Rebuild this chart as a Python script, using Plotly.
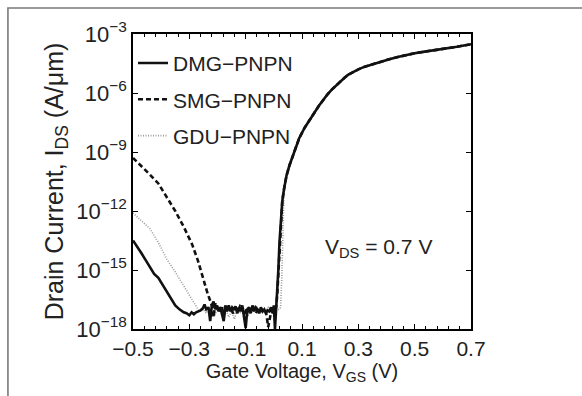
import numpy as np
import plotly.graph_objects as go

# Gate voltage (V) and log10 of drain current (A/um), off-state + turn-on per device
vg_dmg = [-0.500, -0.485, -0.470, -0.455, -0.440, -0.425, -0.410, -0.395, -0.380, -0.365,
          -0.350, -0.335, -0.320, -0.310, -0.300, -0.292, -0.284, -0.276, -0.268, -0.260,
          -0.252, -0.246, -0.240, -0.232, -0.226, -0.220, -0.214, -0.208, -0.202, -0.196,
          -0.190, -0.184, -0.178, -0.172, -0.166, -0.160, -0.154, -0.148, -0.142, -0.136,
          -0.130, -0.124, -0.118, -0.112, -0.106, -0.100, -0.094, -0.088, -0.082, -0.076,
          -0.070, -0.064, -0.058, -0.052, -0.046, -0.040, -0.034, -0.028, -0.022, -0.016,
          -0.010, -0.004, 0.000, 0.004, 0.008, 0.012, 0.016, 0.020, 0.025, 0.030, 0.036]
log_ids_dmg = [-13.5, -13.8, -14.15, -14.5, -14.85, -15.2, -15.4, -15.75, -16.1, -16.5,
               -16.8, -17.0, -17.15, -17.2, -17.3, -17.15, -17.25, -17.15, -17.1, -17.05,
               -16.95, -16.75, -17.0, -16.9, -17.6, -16.8, -16.6, -17.0, -16.8, -17.1,
               -16.9, -17.2, -17.6, -16.9, -17.0, -16.8, -17.1, -16.9, -17.0, -16.85,
               -17.2, -16.9, -17.1, -16.8, -17.3, -17.95, -17.0, -16.9, -17.2, -16.8,
               -17.1, -16.9, -17.0, -17.2, -16.9, -17.1, -17.0, -17.2, -17.05, -17.1,
               -16.9, -17.2, -16.8, -18.0, -17.0, -16.2, -15.0, -13.6, -12.3, -11.5, -10.9]

vg_smg = [-0.500, -0.470, -0.440, -0.410, -0.380, -0.350, -0.320, -0.290, -0.270, -0.250,
          -0.235, -0.225, -0.218, -0.214, -0.208, -0.202, -0.196, -0.190, -0.184, -0.178,
          -0.172, -0.166, -0.160, -0.152, -0.144, -0.136, -0.128, -0.120, -0.112, -0.104,
          -0.096, -0.088, -0.080, -0.072, -0.064, -0.056, -0.048, -0.040, -0.032, -0.026,
          -0.020, -0.014, -0.008, -0.002, 0.004, 0.008, 0.012, 0.016, 0.020, 0.025,
          0.030, 0.036]
log_ids_smg = [-9.3, -9.7, -10.15, -10.6, -11.3, -12.0, -12.8, -13.7, -14.5, -15.5,
               -16.2, -16.6, -16.9, -17.4, -16.7, -17.0, -16.8, -17.1, -16.9, -17.3,
               -16.8, -17.1, -16.9, -17.0, -17.2, -16.9, -17.1, -16.85, -17.0, -17.3,
               -16.9, -17.1, -17.0, -16.9, -17.2, -17.0, -16.9, -17.1, -17.0, -17.3,
               -17.9, -17.4, -17.0, -17.1, -17.0, -16.9, -16.3, -15.2, -13.8, -12.4,
               -11.5, -10.9]

vg_gdu = [-0.500, -0.470, -0.440, -0.410, -0.380, -0.350, -0.320, -0.300, -0.280, -0.265,
          -0.250, -0.240, -0.230, -0.220, -0.210, -0.200, -0.190, -0.180, -0.170, -0.160,
          -0.150, -0.140, -0.130, -0.120, -0.110, -0.100, -0.090, -0.080, -0.070, -0.060,
          -0.050, -0.040, -0.030, -0.020, -0.010, 0.000, 0.010, 0.020, 0.024, 0.028,
          0.032, 0.036]
log_ids_gdu = [-12.1, -12.5, -12.9, -13.6, -14.45, -15.1, -15.8, -16.3, -16.8, -17.1,
               -17.0, -17.2, -16.9, -17.1, -17.3, -17.0, -16.9, -17.2, -17.0, -17.4,
               -17.1, -17.5, -17.0, -17.2, -16.9, -17.1, -17.3, -17.0, -17.1, -16.9,
               -17.2, -17.0, -17.1, -16.9, -17.0, -17.2, -17.0, -17.0, -16.9, -15.5,
               -13.0, -11.2]

# on-state branch, common to all three devices
vg_on = [0.045, 0.055, 0.065, 0.079, 0.090, 0.110, 0.127, 0.144, 0.160, 0.175,
         0.190, 0.204, 0.220, 0.235, 0.250, 0.263, 0.280, 0.300, 0.323, 0.350,
         0.382, 0.410, 0.440, 0.470, 0.500, 0.530, 0.560, 0.590, 0.620, 0.650,
         0.680, 0.700]
log_ids_on = [-10.2, -9.7, -9.3, -8.75, -8.3, -7.75, -7.4, -7.0, -6.65, -6.35,
              -6.08, -5.85, -5.62, -5.42, -5.24, -5.08, -4.94, -4.80, -4.66, -4.53,
              -4.41, -4.28, -4.17, -4.07, -3.98, -3.91, -3.85, -3.79, -3.73, -3.65,
              -3.57, -3.52]

x_ticks = [-0.5, -0.3, -0.1, 0.1, 0.3, 0.5, 0.7]
x_ticktext = ["\u22120.5", "\u22120.3", "\u22120.1", "0.1", "0.3", "0.5", "0.7"]
y_exponents = [-18, -15, -12, -9, -6, -3]

FONT = "Liberation Sans, Arial, Helvetica, sans-serif"


def curve(vg, log_ids):
    v = np.array(list(vg) + vg_on)
    i = 10.0 ** np.array(list(log_ids) + log_ids_on)
    return v, i


fig = go.Figure()

series = [
    ("DMG\u2212PNPN", vg_dmg, log_ids_dmg, dict(color="#111111", width=2.6, dash="solid")),
    ("SMG\u2212PNPN", vg_smg, log_ids_smg, dict(color="#111111", width=2.6, dash="5px,3px")),
    ("GDU\u2212PNPN", vg_gdu, log_ids_gdu, dict(color="#9a9a9a", width=1.6, dash="1px,1.5px")),
]
ranks = {"DMG\u2212PNPN": 1, "SMG\u2212PNPN": 2, "GDU\u2212PNPN": 3}
# draw the dotted curve first so the dark ones sit on top
for name, vg, lg, line in reversed(series):
    x, y = curve(vg, lg)
    fig.add_trace(go.Scatter(x=x, y=y, mode="lines", name=name, line=line,
                             legendgroup=name, legendrank=ranks[name]))

axis_common = dict(showline=True, linecolor="black", linewidth=1.5, mirror="ticks",
                   ticks="inside", tickcolor="black", showgrid=False, zeroline=False)

fig.update_xaxes(range=[-0.5, 0.7], tickmode="array", tickvals=x_ticks, ticktext=x_ticktext,
                 ticklen=5, tickwidth=1.2,
                 tickfont=dict(family=FONT, size=21, color="#222"),
                 minor=dict(tick0=-0.5, dtick=0.04, ticks="inside", ticklen=3, tickcolor="black",
                            showgrid=False),
                 title=dict(text="Gate Voltage, V<sub>GS</sub> (V)",
                            font=dict(family=FONT, size=20, color="#222"), standoff=2),
                 **axis_common)
fig.update_yaxes(type="log", range=[-18, -3], tickmode="array",
                 tickvals=[10.0 ** e for e in y_exponents],
                 ticktext=["10<sup>\u2212%d</sup>" % (-e) for e in y_exponents],
                 ticklen=5, tickwidth=1.2,
                 tickfont=dict(family=FONT, size=22, color="#222"),
                 title=dict(text="Drain Current, I<sub>DS</sub> (A/\u03bcm)",
                            font=dict(family=FONT, size=25, color="#222"), standoff=6),
                 **axis_common)

fig.add_annotation(xref="paper", yref="paper", x=0.562, y=0.274, xanchor="left",
                   yanchor="middle", text="V<sub>DS</sub> = 0.7 V", showarrow=False,
                   font=dict(family=FONT, size=21, color="#222"))

# outer frame line
fig.add_shape(type="rect", xref="paper", yref="paper", x0=-0.37, x1=1.6, y0=-0.5, y1=1.088,
              line=dict(color="#7a7a7a", width=1.6), fillcolor="rgba(0,0,0,0)", layer="below")

fig.update_layout(
    width=582, height=396,
    margin=dict(l=133, r=111, t=34, b=67, autoexpand=False),
    paper_bgcolor="white", plot_bgcolor="white",
    showlegend=True,
    legend=dict(x=0.0, y=0.97, xanchor="left", yanchor="top", bgcolor="rgba(0,0,0,0)",
                font=dict(family=FONT, size=21, color="#222"), traceorder="grouped",
                tracegroupgap=6, itemwidth=30),
)

fig.write_html("out.html")
